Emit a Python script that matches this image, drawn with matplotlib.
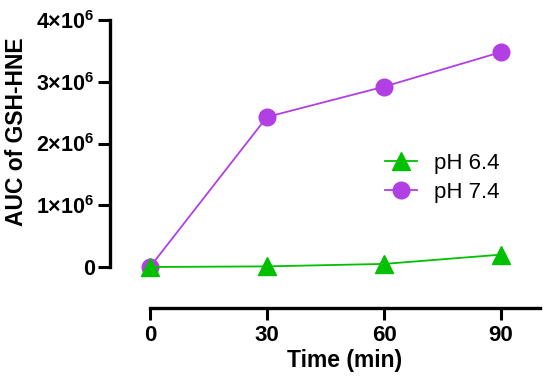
import matplotlib
matplotlib.use("Agg")
import matplotlib.pyplot as plt

time_min = [0, 30, 60, 90]
ph64 = [0.0e6, 0.01e6, 0.05e6, 0.20e6]
ph74 = [0.0e6, 2.43e6, 2.92e6, 3.48e6]
xticks = [0, 30, 60, 90]
yticks = [0, 1e6, 2e6, 3e6, 4e6]
ytick_labels = ["0", r"$\mathregular{1{×}10^{6}}$", r"$\mathregular{2{×}10^{6}}$",
                r"$\mathregular{3{×}10^{6}}$", r"$\mathregular{4{×}10^{6}}$"]

plt.rcParams['font.family'] = ['Liberation Sans', 'DejaVu Sans']

fig = plt.figure(figsize=(5.5, 3.83), dpi=100)
W, H = 550, 383
left, right, top, bottom = 110, 540, 20, 308
ax = fig.add_axes([left / W, 1 - bottom / H, (right - left) / W, (bottom - top) / H])

green = '#00C000'
purple = '#B23FE3'

ax.plot(time_min, ph64, color=green, lw=1.3, marker='^', ms=12.5, mec=green, mfc=green,
        label='pH 6.4', clip_on=False, zorder=4)
ax.plot(time_min, ph74, color=purple, lw=1.3, marker='o', ms=12, mec=purple, mfc=purple,
        label='pH 7.4', clip_on=False, zorder=3)

# axis geometry: 0 min at x=150 px, 100 min at 540 px; 0 at y=267, 4e6 at y=20
zero_x, zero_y = 150, 267
px_per_min = (right - zero_x) / 100
x0 = -(zero_x - left) / px_per_min
px_per_unit = (zero_y - top) / 4e6
y0 = -(bottom - zero_y) / px_per_unit
ax.set_xlim(x0, 100)
ax.set_ylim(y0, 4e6)

for s in ['top', 'right']:
    ax.spines[s].set_visible(False)
ax.spines['left'].set_bounds(0, 4e6)
ax.spines['bottom'].set_bounds(0, 100)
ax.spines['left'].set_linewidth(2.4)
ax.spines['bottom'].set_linewidth(2.4)

ax.set_xticks(xticks)
ax.set_xticklabels([str(t) for t in xticks])
ax.set_yticks(yticks)
ax.set_yticklabels(ytick_labels)
ax.tick_params(axis='both', length=8.5, width=2.2)
ax.tick_params(axis='y', pad=2.5, labelsize=15.5)
ax.tick_params(axis='x', pad=3.5, labelsize=16)
for lab in ax.get_xticklabels() + ax.get_yticklabels():
    lab.set_fontweight('bold')

ax.set_xlabel('Time (min)', fontsize=16.5, fontweight='bold')
ax.set_ylabel('AUC of GSH-HNE', fontsize=16.5, fontweight='bold')
ax.xaxis.set_label_coords(((540 + 150) / 2 - left) / (right - left), -(349 - bottom) / (bottom - top))
ax.yaxis.set_label_coords((28 - left) / (right - left), 1 - (132 - top) / (bottom - top))

fs = 16
em = fs * 100 / 72
leg = ax.legend(loc='center left',
                bbox_to_anchor=((385 - 0.4 * em - left) / (right - left), 1 - (178 - top) / (bottom - top)),
                frameon=False, fontsize=fs, handlelength=32 / em, handletextpad=0.75,
                labelspacing=0.35, borderaxespad=0, borderpad=0.4)

fig.savefig('out.png', dpi=100)
